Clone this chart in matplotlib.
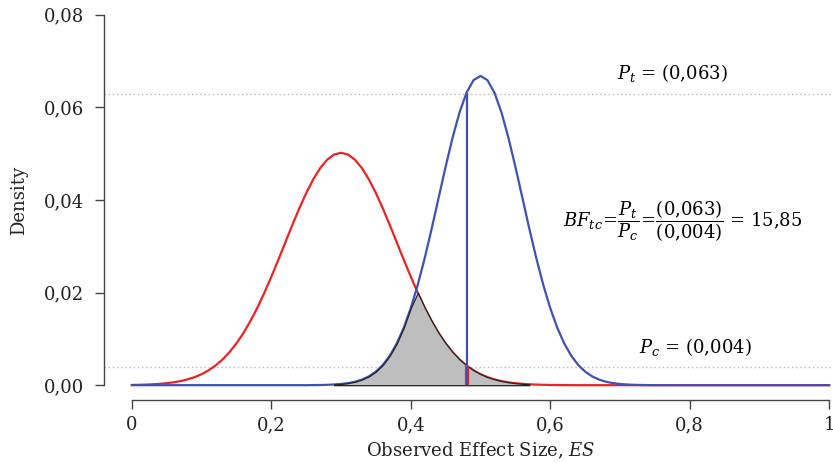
import numpy as np
import matplotlib
matplotlib.use("Agg")
import matplotlib.pyplot as plt

plt.rcParams['font.family'] = ['DejaVu Serif']
plt.rcParams['mathtext.fontset'] = 'dejavuserif'

# effect size grid (0.00 .. 1.00, step 0.01)
es = np.round(np.arange(0, 101) * 0.01, 2)

# density under the control hypothesis (red)
dens_c = [
    0.00005, 0.00008, 0.00013, 0.00019, 0.00029, 0.00043, 0.00062, 0.00089, 0.00126, 0.00174,
    0.00238, 0.00321, 0.00425, 0.00555, 0.00714, 0.00904, 0.01127, 0.01385, 0.01675, 0.01996,
    0.02343, 0.02708, 0.03082, 0.03456, 0.03816, 0.04149, 0.04444, 0.04687, 0.04869, 0.04982,
    0.05020, 0.04982, 0.04869, 0.04687, 0.04444, 0.04149, 0.03816, 0.03456, 0.03082, 0.02708,
    0.02343, 0.01996, 0.01675, 0.01385, 0.01127, 0.00904, 0.00714, 0.00555, 0.00425, 0.00321,
    0.00238, 0.00174, 0.00126, 0.00089, 0.00062, 0.00043, 0.00029, 0.00019, 0.00013, 0.00008,
    0.00005, 0.00003, 0.00002, 0.00001, 0, 0, 0, 0, 0, 0,
    0, 0, 0, 0, 0, 0, 0, 0, 0, 0,
    0, 0, 0, 0, 0, 0, 0, 0, 0, 0,
    0, 0, 0, 0, 0, 0, 0, 0, 0, 0,
    0,
]

# density under the test hypothesis (blue)
dens_t = [
    0, 0, 0, 0, 0, 0, 0, 0, 0, 0,
    0, 0, 0, 0, 0, 0, 0, 0, 0, 0,
    0, 0, 0, 0, 0, 0, 0.00002, 0.00004, 0.00008, 0.00015,
    0.00026, 0.00044, 0.00074, 0.00121, 0.00191, 0.00294, 0.00439, 0.00639, 0.00904, 0.01244,
    0.01666, 0.02169, 0.02746, 0.03382, 0.04052, 0.04720, 0.05349, 0.05895, 0.06319, 0.06588,
    0.06680, 0.06588, 0.06319, 0.05895, 0.05349, 0.04720, 0.04052, 0.03382, 0.02746, 0.02169,
    0.01666, 0.01244, 0.00904, 0.00639, 0.00439, 0.00294, 0.00191, 0.00121, 0.00074, 0.00044,
    0.00026, 0.00015, 0.00008, 0.00004, 0.00002, 0, 0, 0, 0, 0,
    0, 0, 0, 0, 0, 0, 0, 0, 0, 0,
    0, 0, 0, 0, 0, 0, 0, 0, 0, 0,
    0,
]

obs_es = 0.48
p_t = 0.063
p_c = 0.004
bf_tc = 15.85
shade_range = (0.29, 0.57)

x_ticks = [0, 0.2, 0.4, 0.6, 0.8, 1]
x_ticklabels = ['0', '0,2', '0,4', '0,6', '0,8', '1']
y_ticks = [0, 0.02, 0.04, 0.06, 0.08]
y_ticklabels = ['0,00', '0,02', '0,04', '0,06', '0,08']

RED = '#ee2222'
BLUE = '#3f51b5'
AXC = '#444444'

dens_c = np.array(dens_c)
dens_t = np.array(dens_t)

fig = plt.figure(figsize=(8.33, 4.63), dpi=100)
ax = fig.add_axes([104 / 833, 63 / 463, 753 / 833, 400 / 463])
ax.set_xlim(-0.04, 1.04)
ax.set_ylim(-0.0032, 0.0832)

# reference lines for the two densities at the observed ES
ax.axhline(p_t, color='#bbbbbb', lw=1, ls=(0, (1, 2)), zorder=1)
ax.axhline(p_c, color='#bbbbbb', lw=1, ls=(0, (1, 2)), zorder=1)

ax.plot(es, dens_c, color=RED, lw=1.6, zorder=2)
ax.plot(es, dens_t, color=BLUE, lw=1.6, zorder=3)

# overlap area
mask = (es >= shade_range[0]) & (es <= shade_range[1])
ax.fill_between(es[mask], 0, np.minimum(dens_c, dens_t)[mask],
                facecolor='#bebebe', edgecolor='#222222', lw=0.9, zorder=4)

i_obs = int(np.argmin(np.abs(es - obs_es)))
ax.vlines(obs_es, 0, dens_c[i_obs], color=RED, lw=3, zorder=5)
ax.vlines(obs_es, 0, dens_t[i_obs], color=BLUE, lw=1.6, zorder=6)

fs = 13
ax.text(0.696, 0.0662, r'$P_t$ = (0,063)', fontsize=fs, ha='left', va='baseline')
ax.text(0.727, 0.0069, r'$P_c$ = (0,004)', fontsize=fs, ha='left', va='baseline')
ax.text(0.618, 0.0342,
        r'$BF_{tc}\!=\!\dfrac{P_t}{P_c}\!=\!\dfrac{(0{,}063)}{(0{,}004)}$ = 15,85',
        fontsize=fs, ha='left', va='baseline')

for s in ['top', 'right']:
    ax.spines[s].set_visible(False)
for s in ['left', 'bottom']:
    ax.spines[s].set_color(AXC)
    ax.spines[s].set_linewidth(1)
ax.spines['left'].set_bounds(0, 0.08)
ax.spines['bottom'].set_bounds(0, 1)

ax.set_xticks(x_ticks)
ax.set_xticklabels(x_ticklabels)
ax.set_yticks(y_ticks)
ax.set_yticklabels(y_ticklabels)
ax.tick_params(axis='both', direction='out', length=6.5, width=1, color=AXC,
               labelsize=fs, labelcolor='#222222')
ax.tick_params(axis='x', pad=5)
ax.tick_params(axis='y', pad=8)

ax.set_xlabel(r'Observed Effect Size, $ES$', fontsize=fs, color='#222222')
ax.xaxis.set_label_coords(0.5, -0.1025)
ax.set_ylabel('Density', fontsize=fs, color='#222222')
ax.yaxis.set_label_coords(-0.101, 0.5)

fig.savefig('out.png', dpi=100)
